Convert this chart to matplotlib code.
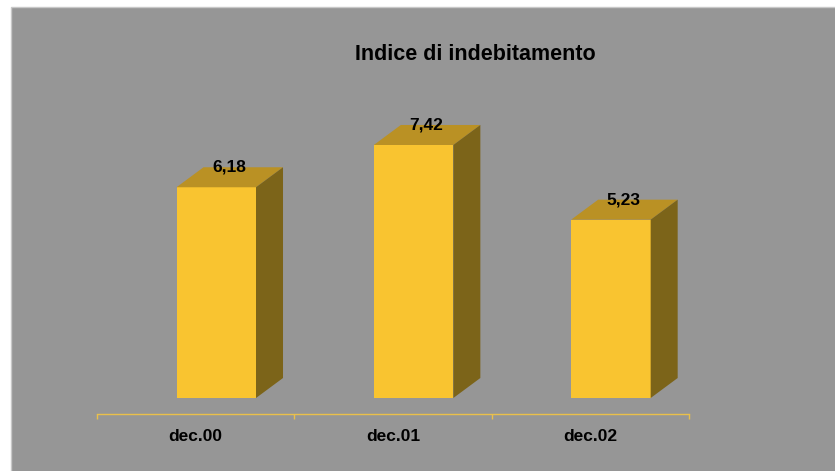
"""Indice di indebitamento: bars with a drawn 3D look, like the spreadsheet original."""

import matplotlib

matplotlib.use("Agg")
import matplotlib.pyplot as plt
from matplotlib.patches import Polygon, Rectangle

categories = ["dec.00", "dec.01", "dec.02"]
values = [6.18, 7.42, 5.23]
value_labels = ["6,18", "7,42", "5,23"]
title = "Indice di indebitamento"

W, H = 835, 471
BG = "#969696"
FRONT = "#F9C430"
TOP = "#BA9124"
SIDE = "#7C6419"
AXIS = "#EAC04A"

plt.rcParams["font.family"] = ["Liberation Sans", "DejaVu Sans"]

fig = plt.figure(figsize=(W / 100, H / 100), dpi=100, facecolor="white")
# zorder below the axes, figure artists go on top otherwise
fig.add_artist(Rectangle((11 / W, -0.1), 1, 1.1 - 7 / H, transform=fig.transFigure,
                         facecolor=BG, edgecolor="#C8C8C8", linewidth=1, zorder=-1))

# axes box in pixels: category axis sits at y=413, value 0 of the front face at y=398
px_per_unit = 34.1
cat_px = (689 - 97) / 3
ax_top = 60
ax = fig.add_axes([97 / W, 1 - 413.5 / H, (689 - 97) / W, (413.5 - ax_top) / H])
ax.patch.set_alpha(0)
ax.set_xlim(-0.5, 2.5)
ax.set_ylim(-15.5 / px_per_unit, (398 - ax_top) / px_per_unit)

bar_w = 79.5 / cat_px
bar_shift = 20 / cat_px  # front face sits right of the category centre
dx = 27 / cat_px
dy = 20 / px_per_unit

for i, v in enumerate(values):
    x0 = i + bar_shift - bar_w / 2 + 0.003
    x1 = x0 + bar_w
    ax.add_patch(Rectangle((x0, 0), bar_w, v, facecolor=FRONT, edgecolor="none"))
    ax.add_patch(Polygon([(x0, v), (x1, v), (x1 + dx, v + dy), (x0 + dx, v + dy)],
                         facecolor=TOP, edgecolor="none"))
    ax.add_patch(Polygon([(x1, 0), (x1 + dx, dy), (x1 + dx, v + dy), (x1, v)],
                         facecolor=SIDE, edgecolor="none"))
    # labels sit on the back edge of the top face
    ax.text(i + bar_shift + dx / 2, v + dy, value_labels[i],
            ha="center", va="center", fontsize=12.5, fontweight="bold", color="black")

for name in ["top", "left", "right"]:
    ax.spines[name].set_visible(False)
ax.spines["bottom"].set_color(AXIS)
ax.spines["bottom"].set_linewidth(1)
ax.set_yticks([])
ax.set_xticks([-0.5, 0.5, 1.5, 2.5])
ax.set_xticklabels([])
ax.tick_params(axis="x", which="major", length=3.6, width=1, color=AXIS)
ax.set_xticks([0, 1, 2], minor=True)
ax.set_xticklabels(categories, minor=True, fontsize=12.5, fontweight="bold")
ax.tick_params(axis="x", which="minor", length=0, pad=11)

fig.text(475 / W, 1 - 54 / H, title, ha="center", va="center",
         fontsize=15.5, fontweight="bold", color="black")

fig.savefig("out.png", dpi=100, facecolor="white")
plt.close(fig)
